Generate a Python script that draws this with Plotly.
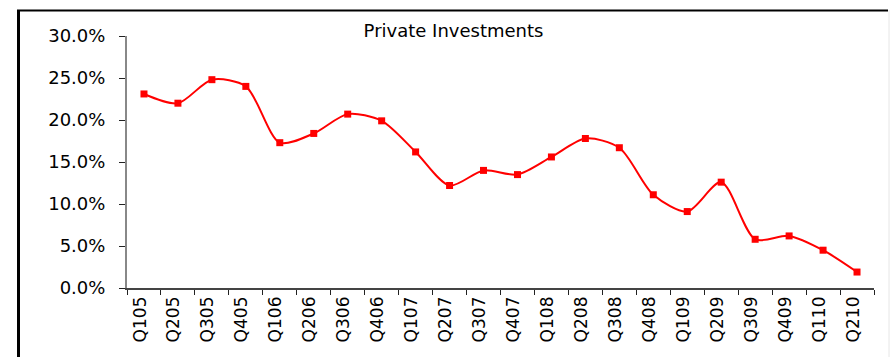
import plotly.graph_objects as go

# Quarterly share of private investments
quarters = ["Q105", "Q205", "Q305", "Q405", "Q106", "Q206", "Q306", "Q406",
            "Q107", "Q207", "Q307", "Q407", "Q108", "Q208", "Q308", "Q408",
            "Q109", "Q209", "Q309", "Q409", "Q110", "Q210"]
share_pct = [23.1, 22.0, 24.8, 24.0, 17.3, 18.4, 20.7, 19.9,
             16.2, 12.2, 14.0, 13.5, 15.6, 17.8, 16.7, 11.1,
             9.1, 12.6, 5.8, 6.2, 4.5, 1.9]
y_ticks = [0.0, 0.05, 0.10, 0.15, 0.20, 0.25, 0.30]

share = [v / 100 for v in share_pct]

W, H = 890, 357
L, R, T, B = 127, 16, 36, 69
FONT = "DejaVu Sans"

fig = go.Figure()
fig.add_trace(go.Scatter(
    x=quarters, y=share, mode="lines+markers",
    line=dict(color="#ff0000", width=2, shape="spline", smoothing=0.8),
    marker=dict(symbol="square", size=7, color="#ff0000"),
    showlegend=False, hoverinfo="x+y",
))

n = len(quarters)
fig.update_layout(
    width=W, height=H,
    margin=dict(l=L, r=R, t=T, b=B, pad=0),
    paper_bgcolor="white", plot_bgcolor="white",
    font=dict(family=FONT, color="black", size=17),
    title=dict(text="Private Investments", x=453.5 / W, xref="container",
               xanchor="center", y=1 - 31 / H, yanchor="middle",
               font=dict(family=FONT, size=18, color="black")),
    xaxis=dict(
        type="category", range=[-0.5, n - 0.5], tickson="boundaries",
        ticks="outside", ticklen=5, tickwidth=1, tickcolor="#222",
        showline=True, linecolor="#444", linewidth=1.5,
        tickangle=-90, showgrid=False, zeroline=False, ticklabelshift=-4,
        tickfont=dict(family=FONT, size=17, color="black"),
    ),
    xaxis2=dict(
        overlaying="x", type="linear", range=[-0.5, n - 0.5],
        tick0=-0.5, dtick=1, ticks="inside", ticklen=4, tickwidth=1,
        tickcolor="#222", showticklabels=False, showline=False,
        showgrid=False, zeroline=False, anchor="y2",
    ),
    yaxis=dict(
        range=[0, 0.30], tickvals=y_ticks, tickformat=".1%",
        ticks="outside", ticklen=6, tickwidth=1, tickcolor="#222",
        showline=True, linecolor="#888", linewidth=2,
        showgrid=False, zeroline=False, ticklabelstandoff=10,
        tickfont=dict(family=FONT, size=18, color="black"),
    ),
    yaxis2=dict(
        overlaying="y", range=[0, 0.30], tickvals=y_ticks,
        ticks="inside", ticklen=6, tickwidth=1, tickcolor="#222",
        showticklabels=False, showline=False, showgrid=False,
        zeroline=False, anchor="x2",
    ),
)

# Outer chart frame (left and top edges)
pw, ph = W - L - R, H - T - B
def px_x(p):
    return (p - L) / pw
def px_y(p):
    return (H - B - p) / ph

fig.add_shape(type="line", xref="paper", yref="paper",
              x0=px_x(18.5), x1=px_x(18.5), y0=px_y(10), y1=px_y(370),
              line=dict(color="black", width=3))
fig.add_shape(type="line", xref="paper", yref="paper",
              x0=px_x(17), x1=px_x(888), y0=px_y(10.5), y1=px_y(10.5),
              line=dict(color="black", width=2))
fig.add_shape(type="line", xref="paper", yref="paper",
              x0=px_x(889), x1=px_x(889), y0=px_y(10), y1=px_y(370),
              line=dict(color="#e6e6e6", width=1))

fig.write_html("out.html")
